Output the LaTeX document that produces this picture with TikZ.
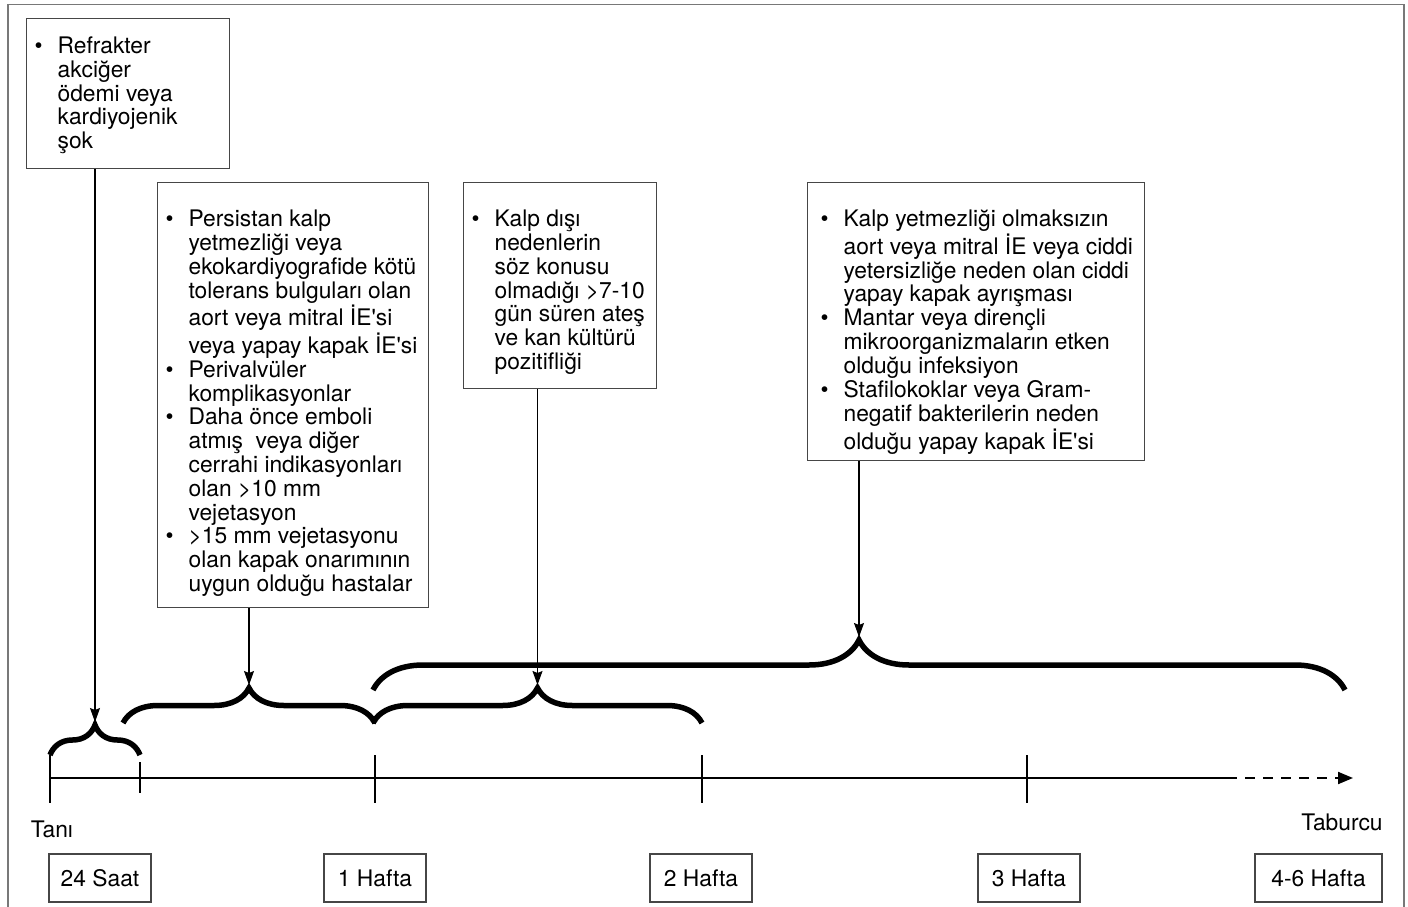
\documentclass[tikz,border=0pt]{standalone}
\usepackage{fontspec}
\setmainfont{TeX Gyre Heros}
\usetikzlibrary{arrows.meta, decorations.pathreplacing, calc}
\definecolor{framegray}{RGB}{120,120,120}
\definecolor{boxgray}{RGB}{70,70,70}
\newcommand{\bullets}[3][8pt]{\makebox[#2][l]{\hspace{#1}\begin{tabular}[t]{@{}p{23pt}@{}l@{}}#3\end{tabular}}}
\newcommand{\apo}{\textquotesingle}

\begin{document}
\begin{tikzpicture}[x=1pt, y=-1pt,
  font=\fontsize{22.8}{23.8}\selectfont,
  NOTE/.style ={draw=boxgray, line width=1.2pt, inner sep=0pt, anchor=north west, text height=44pt},
  WEEK/.style ={draw=boxgray, line width=1.2pt, inner sep=0pt, minimum width=102pt, minimum height=48pt},
  BR/.style   ={decorate, decoration={brace, amplitude=#1}, line width=5.5pt},
  AR/.style   ={-{Stealth[length=14pt, width=10pt, inset=2pt]}, line width=1.1pt},
  TK/.style   ={line width=2pt}
]
  \useasboundingbox (0,0) rectangle (1408,907);
  \draw[framegray, line width=1.5pt] (8,907) -- (8,4.5) -- (1404,4.5) -- (1404,907);

  % indication boxes
  \node[NOTE, text height=35pt, text depth=115pt] (refr) at (26,18)
    {\bullets{203pt}{\textbullet & Refrakter\\ & akciğer\\ & ödemi veya\\ & kardiyojenik\\ & şok}};
  \node[NOTE, text depth=381pt] (persist) at (157,182)
    {\bullets{271pt}{\textbullet & Persistan kalp\\ & yetmezliği veya\\ & ekokardiyografide kötü\\
      & tolerans bulguları olan\\ & aort veya mitral İE\apo si\\ & veya yapay kapak İE\apo si\\
      \textbullet & Perivalvüler\\ & komplikasyonlar\\
      \textbullet & Daha önce emboli\\ & atmış\ \ veya diğer\\ & cerrahi indikasyonları\\ & olan >10 mm\\ & vejetasyon\\
      \textbullet & >15 mm vejetasyonu\\ & olan kapak onarımının\\ & uygun olduğu hastalar}};
  \node[NOTE, text depth=162pt] (fever) at (463,182)
    {\bullets{193pt}{\textbullet & Kalp dışı\\ & nedenlerin\\ & söz konusu\\ & olmadığı >7-10\\
      & gün süren ateş\\ & ve kan kültürü\\ & pozitifliği}};
  \node[NOTE, text depth=234pt] (valve) at (807,182)
    {\bullets[13pt]{337pt}{\textbullet & Kalp yetmezliği olmaksızın\\ & aort veya mitral İE veya ciddi\\
      & yetersizliğe neden olan ciddi\\ & yapay kapak ayrışması\\
      \textbullet & Mantar veya dirençli\\ & mikroorganizmaların etken\\ & olduğu infeksiyon\\
      \textbullet & Stafilokoklar veya Gram-\\ & negatif bakterilerin neden\\ & olduğu yapay kapak İE\apo si}};

  % braces over the time line
  \coordinate (b1l) at (50,755);  \coordinate (b1r) at (140,755);
  \coordinate (b2l) at (123,723); \coordinate (b2r) at (375,723);
  \coordinate (b3l) at (373,723); \coordinate (b3r) at (702,723);
  \coordinate (b4l) at (373,690); \coordinate (b4r) at (1345,690);
  \draw[BR=30] (b1l) -- (b1r);
  \draw[BR=35] (b2l) -- (b2r);
  \draw[BR=35] (b3l) -- (b3r);
  \draw[BR=50] (b4l) -- (b4r);
  \coordinate (tip1) at (95,722);
  \coordinate (tip2) at (249,685);
  \coordinate (tip3) at (537.5,685);
  \coordinate (tip4) at (859,637);

  \draw[AR] (refr.south -| tip1) -- (tip1);
  \draw[AR] (persist.south -| tip2) -- (tip2);
  \draw[AR] (fever.south -| tip3) -- (tip3);
  \draw[AR] (valve.south -| tip4) -- (tip4);

  % time line
  \coordinate (t0) at (50,778);
  \coordinate (tdash) at (1227,778);
  \coordinate (tend) at (1353,778);
  \draw[TK] (t0) -- (tdash);
  \draw[TK, dash pattern=on 10pt off 8pt, -{Triangle[length=15pt, width=12pt]}] (tdash) -- (tend);
  \foreach \x/\a/\b in {50/755/803, 140/762/793, 375/755/803, 702/755/803, 1027/755/803}
    \draw[TK] (\x,\a) -- (\x,\b);

  \node (tani) at (52,829) {Tanı};
  \node (taburcu) at (1342,822) {Taburcu};

  \node[WEEK] (h24) at (100,878) {24 Saat};
  \node[WEEK] (w1) at (375,878) {1 Hafta};
  \node[WEEK] (w2) at (701,878) {2 Hafta};
  \node[WEEK] (w3) at (1029,878) {3 Hafta};
  \node[WEEK, minimum width=127pt] (w46) at (1318.5,878) {4-6 Hafta};
\end{tikzpicture}
\end{document}
